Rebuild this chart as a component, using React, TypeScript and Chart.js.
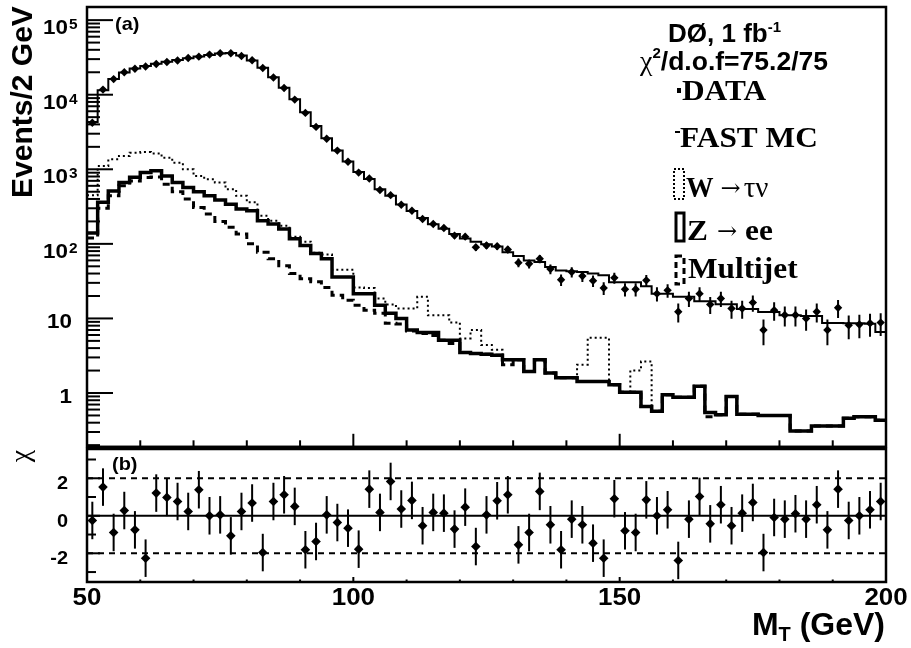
import React, { useEffect, useRef } from "react";
import { Chart, registerables } from "chart.js";
Chart.register(...registerables);

// ---------------- data ----------------
const mtBinLow = [
  50, 52, 54, 56, 58, 60, 62, 64, 66, 68, 70, 72, 74, 76, 78, 80, 82, 84, 86, 88,
  90, 92, 94, 96, 98, 100, 102, 104, 106, 108, 110, 112, 114, 116, 118, 120, 122, 124, 126, 128,
  130, 132, 134, 136, 138, 140, 142, 144, 146, 148, 150, 152, 154, 156, 158, 160, 162, 164, 166, 168,
  170, 172, 174, 176, 178, 180, 182, 184, 186, 188, 190, 192, 194, 196, 198,
];
const mtBinWidth = 2;
const mtMin = 50;
const mtMax = 200;

const dataCounts = [
  4200, 11700, 16200, 20000, 22300, 23900, 25800, 27500, 28700, 31000,
  32400, 34500, 36000, 36000, 33000, 29000, 22800, 17000, 12300, 8600,
  5700, 3700, 2570, 1780, 1260, 902, 751, 527, 450, 334,
  278, 215, 185, 163, 129, 125, 90, 95, 93, 84,
  56, 54, 63, 46, 33, 42, 37, 32, 25.6, 35,
  24.6, 24.6, 32.4, 21.5, 23.8, 12.3, 18.5, 21.5, 15.4, 18.5,
  13.6, 13.6, 16.3, 7.0, 12.9, 11.1, 11.1, 10, 12.3, 7.0,
  13.9, 8.1, 8.3, 8.6, 8.8,
];

const fastMC = [
  4300, 11500, 16300, 19800, 22500, 24300, 26000, 27600, 29200, 30800,
  32500, 34200, 35800, 36200, 33500, 28800, 23000, 17200, 12400, 8700,
  5800, 3800, 2600, 1790, 1270, 920, 740, 540, 440, 338,
  276, 222, 183, 160, 136, 118, 107, 99, 92, 77,
  69, 60, 57, 49, 44, 43, 42, 40, 38, 30.5,
  30.5, 30.5, 27, 21.5, 21.5, 19.5, 19.5, 17, 17, 15.5,
  15.5, 13.4, 13.4, 12.2, 12.2, 11, 11, 10.8, 10.8, 8.7,
  8.7, 8.6, 8.6, 8.5, 6.6,
];

// stacked levels as drawn: W->tau nu (dotted), Z->ee (thick), multijet (dashed)
const wTauNuStack = [
  450, 1107, 1360, 1507, 1668, 1700, 1634, 1431, 1228, 1000,
  815, 736, 664, 541, 441, 360, 239, 204, 175, 125,
  107, 76, 72, 45, 45, 26, 25.5, 18.5, 15.4, 13.6,
  13.6, 19.5, 11, 11, 8.85, 5.4, 7, 4.4, 3.8, 2.8,
  2.8, 1.95, 2.8, 1.85, 1.6, 1.6, 2.4, 5.5, 5.5, 1.29,
  1.02, 2.0, 2.64, 0.57, 0.95, 0.875, 0.875, 1.23, 0.55, 0.51,
  0.9, 0.52, 0.52, 0.5, 0.5, 0.5, 0.31, 0.31, 0.36, 0.36,
  0.36, 0.46, 0.48, 0.48, 0.43,
];

const zeeStack = [
  140, 360, 513, 663, 779, 903, 953, 814, 663, 570,
  500, 440, 386, 341, 293, 278, 204, 185, 158, 117,
  95, 74, 63, 36, 36, 21.5, 21.5, 15, 11.7, 10,
  7.0, 6.5, 6.5, 5.1, 5.1, 3.5, 3.4, 3.3, 3.2, 2.8,
  2.8, 1.95, 2.8, 1.85, 1.6, 1.6, 1.43, 1.43, 1.43, 1.29,
  1.02, 1.02, 0.66, 0.57, 0.95, 0.875, 0.875, 1.23, 0.55, 0.51,
  0.9, 0.52, 0.52, 0.5, 0.5, 0.5, 0.31, 0.31, 0.36, 0.36,
  0.36, 0.46, 0.48, 0.48, 0.43,
];

const multijet = [
  120, 300, 440, 600, 699, 774, 790, 631, 499, 398,
  308, 251, 200, 167, 136, 100, 77, 63, 51, 40,
  34, 31, 26, 20.5, 17.5, 15, 12.9, 11.7, 8.6, 8.4,
  6.8, 6.3, 5.9, 5.1, 4.6, 3.5, 3.4, 3.3, 3.2, 2.4,
  2.8, 1.95, 2.8, 1.85, 1.6, 1.6, 1.43, 1.43, 1.43, 1.29,
  1.02, 1.02, 0.66, 0.57, 0.95, 0.875, 0.875, 1.23, 0.48, 0.51,
  0.9, 0.52, 0.52, 0.5, 0.5, 0.5, 0.31, 0.31, 0.36, 0.36,
  0.36, 0.46, 0.48, 0.48, 0.43,
];

const chiValues = [
  -0.25, 1.53, -0.89, 0.28, -0.75, -2.26, 1.21, 0.98, 0.76, 0.23,
  1.39, 0, 0.05, -1.07, 0.23, 0.68, -1.96, 0.76, 1.12, 0.5,
  -1.81, -1.37, 0.05, -0.36, -0.66, -1.78, 1.42, 0.18, 1.83, 0.36,
  0.82, -0.53, 0.18, 0.14, -0.71, 0.46, -1.64, 0.05, 0.8, 1.12,
  -1.55, -0.89, 1.3, -0.48, -1.81, -0.18, -0.48, -1.46, -2.26, 0.91,
  -0.8, -0.89, 0.85, 0, 0.32, -2.38, -0.18, 1.03, -0.43, 0.59,
  -0.53, 0.14, 0.71, -1.96, -0.09, -0.18, 0.11, -0.18, 0.59, -0.75,
  1.42, -0.25, 0, 0.32, 0.76,
];
const chiError = 1;

// axes / ticks
const logDecades = [-1, 0, 1, 2, 3, 4, 5];
const logSubdivisions = [1, 2, 3, 4, 5, 6, 7, 8, 9];
const decadeLabels: Record<number, [string, string]> = {
  0: ["1", ""],
  1: ["10", ""],
  2: ["10", "2"],
  3: ["10", "3"],
  4: ["10", "4"],
  5: ["10", "5"],
};
const xMajorTicks = [50, 100, 150, 200];
const xMinorTicks = [60, 70, 80, 90, 110, 120, 130, 140, 160, 170, 180, 190];
const chiMajorTicks = [-2, 0, 2];
const chiMinorTicks = [-3, -1, 1, 3];
const chiBand = 2;

const Y_MIN = 0.19;
const Y_MAX = 1.5e5;
const CHI_MIN = -3.53;
const CHI_MAX = 3.56;

// page geometry
const PAGE_W = 911;
const PAGE_H = 648;
const TOP_CANVAS_H = 451;
const BOT_TOP = 440; // page y of bottom canvas

// ---------------- helpers ----------------
const SANS = '"Liberation Sans", Arial, Helvetica, sans-serif';
const SERIF = '"Liberation Serif", "Times New Roman", serif';
const ARROW = '"DejaVu Serif", "Liberation Serif", serif';

type Run = { t: string; font: string; dy?: number; sx?: number; gap?: number };

function measure(ctx: CanvasRenderingContext2D, t: string, font: string, sx = 1) {
  ctx.save();
  ctx.font = font;
  const w = ctx.measureText(t).width * sx;
  ctx.restore();
  return w;
}

function drawRuns(
  ctx: CanvasRenderingContext2D,
  runs: Run[],
  x: number,
  y: number,
  align: "left" | "right" | "center" = "left",
  rot = 0
) {
  const total = runs.reduce((a, r) => a + measure(ctx, r.t, r.font, r.sx ?? 1) + (r.gap ?? 0), 0);
  let cx = align === "right" ? -total : align === "center" ? -total / 2 : 0;
  ctx.save();
  ctx.translate(x, y);
  if (rot) ctx.rotate(rot);
  ctx.fillStyle = "#000";
  ctx.textBaseline = "alphabetic";
  ctx.textAlign = "left";
  for (const r of runs) {
    const sx = r.sx ?? 1;
    cx += r.gap ?? 0;
    ctx.save();
    ctx.font = r.font;
    ctx.translate(cx, r.dy ?? 0);
    ctx.scale(sx, 1);
    ctx.fillText(r.t, 0, 0);
    ctx.restore();
    cx += measure(ctx, r.t, r.font, sx);
  }
  ctx.restore();
}

function seg(ctx: CanvasRenderingContext2D, x1: number, y1: number, x2: number, y2: number) {
  ctx.beginPath();
  ctx.moveTo(x1, y1);
  ctx.lineTo(x2, y2);
  ctx.stroke();
}

function histPoints(vals: number[]) {
  const pts = mtBinLow.map((x, i) => ({ x, y: vals[i] }));
  pts.push({ x: mtMax, y: vals[vals.length - 1] });
  return pts;
}

function histDataset(vals: number[], width: number, dash: number[]) {
  return {
    type: "line" as const,
    data: histPoints(vals),
    borderColor: "#000",
    borderWidth: width,
    borderDash: dash,
    stepped: true as const,
    pointRadius: 0,
    fill: false,
    tension: 0,
    borderCapStyle: "butt" as const,
    borderJoinStyle: "miter" as const,
  };
}

// ---------------- plugins ----------------
const errorBarsTop = {
  id: "errorBarsTop",
  afterDatasetsDraw(chart: any) {
    const ctx = chart.ctx as CanvasRenderingContext2D;
    const a = chart.chartArea;
    const xs = chart.scales.x;
    const ys = chart.scales.y;
    ctx.save();
    ctx.beginPath();
    ctx.rect(a.left, a.top, a.right - a.left, a.bottom - a.top);
    ctx.clip();
    ctx.strokeStyle = "#000";
    ctx.lineWidth = 2;
    dataCounts.forEach((v, i) => {
      const err = Math.sqrt(v);
      const px = xs.getPixelForValue(mtBinLow[i] + mtBinWidth / 2);
      seg(ctx, px, ys.getPixelForValue(v + err), px, ys.getPixelForValue(Math.max(v - err, Y_MIN)));
    });
    ctx.restore();
  },
};

const topDecor = {
  id: "topDecor",
  afterDraw(chart: any) {
    const ctx = chart.ctx as CanvasRenderingContext2D;
    const a = chart.chartArea;
    const xs = chart.scales.x;
    const ys = chart.scales.y;
    ctx.save();
    ctx.strokeStyle = "#000";
    ctx.lineWidth = 2;
    // y ticks
    for (const d of logDecades) {
      for (const k of logSubdivisions) {
        const v = k * Math.pow(10, d);
        if (v < Y_MIN || v > Y_MAX) continue;
        const py = ys.getPixelForValue(v);
        seg(ctx, a.left, py, a.left + (k === 1 ? 26 : 13), py);
      }
    }
    // x ticks (pointing up from bottom)
    for (const v of xMajorTicks) {
      const px = xs.getPixelForValue(v);
      seg(ctx, px, a.bottom, px, a.bottom - 13);
    }
    for (const v of xMinorTicks) {
      const px = xs.getPixelForValue(v);
      seg(ctx, px, a.bottom, px, a.bottom - 6.5);
    }
    // frame
    ctx.lineWidth = 2.5;
    ctx.strokeRect(a.left, a.top, a.right - a.left, a.bottom - a.top);

    // y tick labels
    for (const d of logDecades) {
      const lab = decadeLabels[d];
      if (!lab) continue;
      const py = ys.getPixelForValue(Math.pow(10, d));
      if (lab[1]) {
        drawRuns(ctx, [{ t: lab[0], font: `bold 20px ${SANS}`, sx: 1.12 }], 68, py + 14, "right");
        drawRuns(ctx, [{ t: lab[1], font: `bold 14px ${SANS}`, sx: 1.1 }], 69, py + 9, "left");
      } else {
        drawRuns(ctx, [{ t: lab[0], font: `bold 20px ${SANS}`, sx: 1.12 }], 72, py + 10, "right");
      }
    }
    // y title
    drawRuns(ctx, [{ t: "Events/2 GeV", font: `bold 30px ${SANS}` }], 32, 102, "center", -Math.PI / 2);
    // panel label
    drawRuns(ctx, [{ t: "(a)", font: `bold 19px ${SANS}`, sx: 1.05 }], 115, 30);

    // header texts
    drawRuns(ctx, [
      { t: "D\u00d8, 1 fb", font: `bold 26px ${SANS}` },
      { t: "-1", font: `bold 15px ${SANS}`, dy: -10 },
    ], 668, 42);
    drawRuns(ctx, [
      { t: "\u03c7", font: `28px ${SERIF}` },
      { t: "2", font: `bold 15px ${SANS}`, dy: -12 },
      { t: "/d.o.f=75.2/75", font: `bold 26px ${SANS}`, sx: 1.02 },
    ], 640, 70);

    // legend
    const LB = `bold 29px ${SERIF}`;
    const LN = `29px ${SERIF}`;
    const LA = `24px ${ARROW}`;
    const SX = 1.08;
    ctx.fillStyle = "#000";
    ctx.fillRect(677, 88, 4, 5);
    drawRuns(ctx, [{ t: "DATA", font: LB, sx: SX }], 682, 100);

    ctx.lineWidth = 2;
    seg(ctx, 675, 132, 680, 132);
    drawRuns(ctx, [{ t: "FAST MC", font: LB, sx: SX }], 680, 147);

    ctx.lineWidth = 2;
    ctx.setLineDash([2, 2]);
    ctx.strokeRect(674, 169, 10, 30);
    ctx.setLineDash([]);
    drawRuns(ctx, [
      { t: "W", font: LB, sx: 0.95 },
      { t: "\u2192", font: LA, gap: 7, dy: -1 },
      { t: "\u03c4\u03bd", font: LN, gap: 3 },
    ], 686, 197);

    ctx.lineWidth = 3;
    ctx.strokeRect(676, 213, 8, 28);
    drawRuns(ctx, [
      { t: "Z", font: LB, sx: SX },
      { t: "\u2192", font: LA, gap: 9, dy: -1 },
      { t: "ee", font: LB, sx: SX, gap: 8 },
    ], 687, 240);

    ctx.lineWidth = 3;
    ctx.setLineDash([6, 4]);
    ctx.strokeRect(676, 256, 8, 28);
    ctx.setLineDash([]);
    drawRuns(ctx, [{ t: "Multijet", font: LB, sx: SX }], 688, 278);
    ctx.restore();
  },
};

const botDecor = {
  id: "botDecor",
  beforeDatasetsDraw(chart: any) {
    const ctx = chart.ctx as CanvasRenderingContext2D;
    const a = chart.chartArea;
    const ys = chart.scales.y;
    ctx.save();
    ctx.strokeStyle = "#000";
    ctx.lineWidth = 2;
    seg(ctx, a.left, ys.getPixelForValue(0), a.right, ys.getPixelForValue(0));
    ctx.setLineDash([6, 5]);
    seg(ctx, a.left, ys.getPixelForValue(chiBand), a.right, ys.getPixelForValue(chiBand));
    seg(ctx, a.left, ys.getPixelForValue(-chiBand), a.right, ys.getPixelForValue(-chiBand));
    ctx.restore();
  },
  afterDatasetsDraw(chart: any) {
    const ctx = chart.ctx as CanvasRenderingContext2D;
    const xs = chart.scales.x;
    const ys = chart.scales.y;
    ctx.save();
    ctx.strokeStyle = "#000";
    ctx.lineWidth = 2;
    chiValues.forEach((v, i) => {
      const px = xs.getPixelForValue(mtBinLow[i] + mtBinWidth / 2);
      seg(ctx, px, ys.getPixelForValue(v + chiError), px, ys.getPixelForValue(v - chiError));
    });
    ctx.restore();
  },
  afterDraw(chart: any) {
    const ctx = chart.ctx as CanvasRenderingContext2D;
    const a = chart.chartArea;
    const xs = chart.scales.x;
    const ys = chart.scales.y;
    const oy = -BOT_TOP; // convert page y to canvas y
    ctx.save();
    ctx.strokeStyle = "#000";
    ctx.lineWidth = 2;
    for (const v of chiMajorTicks) {
      const py = ys.getPixelForValue(v);
      seg(ctx, a.left, py, a.left + 13, py);
    }
    for (const v of chiMinorTicks) {
      const py = ys.getPixelForValue(v);
      seg(ctx, a.left, py, a.left + 9, py);
    }
    for (const v of xMajorTicks) {
      const px = xs.getPixelForValue(v);
      seg(ctx, px, a.bottom, px, a.bottom - 5);
    }
    for (const v of xMinorTicks) {
      const px = xs.getPixelForValue(v);
      seg(ctx, px, a.bottom, px, a.bottom - 2.5);
    }
    ctx.lineWidth = 2.5;
    ctx.strokeRect(a.left, a.top, a.right - a.left, a.bottom - a.top);

    for (const v of chiMajorTicks) {
      const py = ys.getPixelForValue(v);
      drawRuns(ctx, [{ t: String(v), font: `bold 19px ${SANS}`, sx: 1.05 }], 68, py + 11, "right");
    }
    for (const v of xMajorTicks) {
      const px = xs.getPixelForValue(v);
      drawRuns(ctx, [{ t: String(v), font: `bold 24px ${SANS}`, sx: 1.08 }], px, 605 + oy, "center");
    }
    drawRuns(ctx, [
      { t: "M", font: `bold 32px ${SANS}` },
      { t: "T", font: `bold 20px ${SANS}`, dy: 6 },
      { t: " (GeV)", font: `bold 32px ${SANS}` },
    ], 885, 635 + oy, "right");
    drawRuns(ctx, [{ t: "\u03c7", font: `28px ${SERIF}` }], 29, 456 + oy, "center", -Math.PI / 2);
    drawRuns(ctx, [{ t: "(b)", font: `bold 19px ${SANS}`, sx: 1.05 }], 112, 470 + oy);
    ctx.restore();
  },
};

// ---------------- component ----------------
export default function App() {
  const topRef = useRef<HTMLCanvasElement>(null);
  const botRef = useRef<HTMLCanvasElement>(null);

  useEffect(() => {
    const common = {
      animation: false as const,
      responsive: false,
      maintainAspectRatio: false,
      events: [] as any[],
      plugins: { legend: { display: false }, tooltip: { enabled: false } },
    };

    const top = new Chart(topRef.current!, {
      type: "line",
      data: {
        datasets: [
          {
            type: "line",
            data: mtBinLow.map((x, i) => ({ x: x + mtBinWidth / 2, y: dataCounts[i] })),
            showLine: false,
            pointStyle: "rectRot",
            pointRadius: 4.2,
            pointBackgroundColor: "#000",
            pointBorderWidth: 0,
            borderColor: "#000",
          } as any,
          histDataset(fastMC, 2, []),
          histDataset(multijet, 3, [7, 5]),
          histDataset(zeeStack, 3.5, []),
          histDataset(wTauNuStack, 2, [2, 3]),
        ],
      },
      options: {
        ...common,
        layout: { padding: { left: 87, right: PAGE_W - 886, top: 7, bottom: TOP_CANVAS_H - 449 } },
        scales: {
          x: { type: "linear", min: mtMin, max: mtMax, display: false, bounds: "data" },
          y: { type: "logarithmic", min: Y_MIN, max: Y_MAX, display: false, bounds: "data" },
        },
      } as any,
      plugins: [errorBarsTop, topDecor],
    });

    const bot = new Chart(botRef.current!, {
      type: "line",
      data: {
        datasets: [
          {
            type: "line",
            data: mtBinLow.map((x, i) => ({ x: x + mtBinWidth / 2, y: chiValues[i] })),
            showLine: false,
            pointStyle: "rectRot",
            pointRadius: 4.8,
            pointBackgroundColor: "#000",
            pointBorderWidth: 0,
            borderColor: "#000",
          } as any,
        ],
      },
      options: {
        ...common,
        layout: { padding: { left: 87, right: PAGE_W - 886, top: 449 - BOT_TOP, bottom: PAGE_H - 582 } },
        scales: {
          x: { type: "linear", min: mtMin, max: mtMax, display: false, bounds: "data" },
          y: { type: "linear", min: CHI_MIN, max: CHI_MAX, display: false, bounds: "data" },
        },
      } as any,
      plugins: [botDecor],
    });

    return () => {
      top.destroy();
      bot.destroy();
    };
  }, []);

  return (
    <div style={{ position: "fixed", left: 0, top: 0, width: PAGE_W, height: PAGE_H, background: "#fff" }}>
      <canvas
        ref={topRef}
        width={PAGE_W}
        height={TOP_CANVAS_H}
        style={{ position: "absolute", left: 0, top: 0, width: PAGE_W, height: TOP_CANVAS_H }}
      />
      <canvas
        ref={botRef}
        width={PAGE_W}
        height={PAGE_H - BOT_TOP}
        style={{ position: "absolute", left: 0, top: BOT_TOP, width: PAGE_W, height: PAGE_H - BOT_TOP }}
      />
    </div>
  );
}
